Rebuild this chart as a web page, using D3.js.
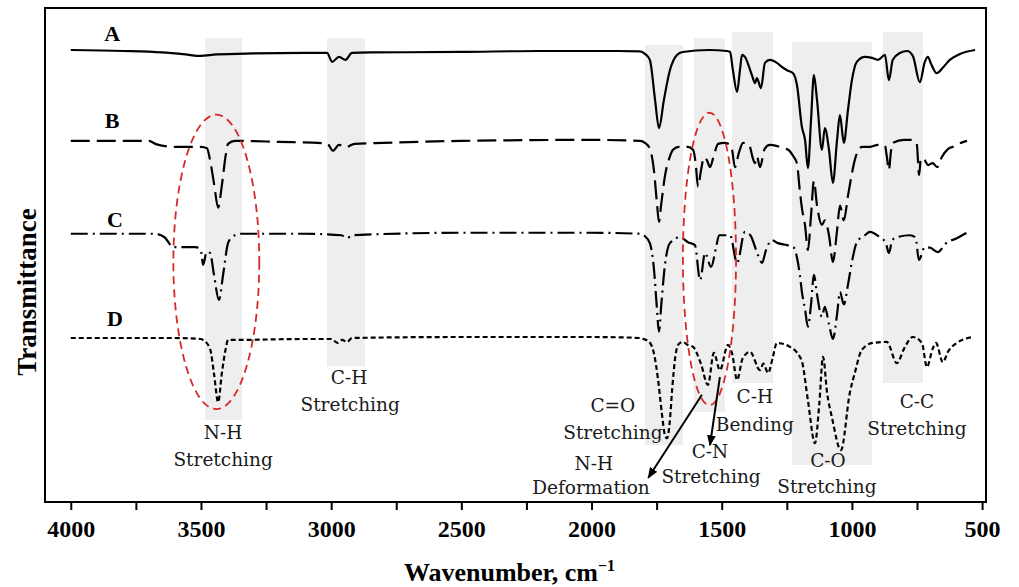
<!DOCTYPE html>
<html>
<head>
<meta charset="utf-8">
<script src="https://cdn.jsdelivr.net/npm/d3@7"></script>
<style>
  body { margin: 0; background: #fff; }
  svg { display: block; }
</style>
</head>
<body>
<svg id="chart" width="1019" height="587"></svg>
<script>
// spectra: [wavenumber (cm-1), transmittance (a.u., traces stacked)]
const traceA = [[4000,91.5],[3800,91.3],[3650,91.0],[3560,90.6],[3503,90.3],[3440,90.6],[3300,90.8],[3100,90.9],[3016,90.9],[2996,89.1],[2970,90.1],[2945,89.5],[2920,90.9],[2850,91.0],[2500,91.1],[2200,91.3],[1900,91.3],[1814,91.2],[1795,90.7],[1776,89.5],[1756,81.4],[1741,75.7],[1722,81.4],[1699,87.4],[1672,90.5],[1650,91.1],[1550,91.5],[1480,91.3],[1468,91.1],[1457,87.4],[1441,83.0],[1430,87.4],[1422,90.5],[1411,90.1],[1384,86.4],[1372,84.8],[1365,85.8],[1349,83.8],[1334,88.9],[1315,89.5],[1288,88.9],[1269,88.1],[1249,87.4],[1226,86.8],[1211,84.4],[1192,75.9],[1180,73.3],[1169,67.6],[1157,77.3],[1146,86.4],[1134,81.4],[1115,71.3],[1104,75.7],[1088,71.3],[1073,64.6],[1057,73.3],[1046,78.3],[1031,72.7],[1015,79.4],[1000,85.4],[981,89.1],[950,90.1],[923,89.9],[900,89.5],[873,90.5],[858,85.4],[843,89.5],[816,90.9],[788,91.3],[766,90.3],[739,85.0],[720,89.1],[708,90.1],[696,88.7],[674,86.8],[651,87.9],[624,89.5],[585,90.7],[527,91.5]];

const traceB = [[4000,73.1],[3700,73.1],[3670,72.4],[3600,71.9],[3500,71.9],[3477,71.6],[3465,69.2],[3450,64.5],[3434,59.6],[3420,64.0],[3405,70.2],[3396,72.5],[3370,73.1],[3200,72.9],[3016,72.6],[2993,71.1],[2970,72.3],[2945,71.8],[2910,72.5],[2800,72.7],[2500,73.1],[2000,73.3],[1814,73.1],[1795,72.7],[1776,71.5],[1760,67.0],[1748,60.0],[1741,56.7],[1733,60.0],[1718,66.0],[1700,69.8],[1687,71.3],[1665,71.9],[1630,71.9],[1610,71.3],[1600,68.5],[1591,63.8],[1580,67.0],[1568,69.8],[1557,69.2],[1545,67.8],[1530,70.2],[1514,72.5],[1490,72.7],[1468,72.3],[1461,71.5],[1449,67.8],[1435,70.5],[1418,72.7],[1395,72.3],[1380,69.5],[1372,68.6],[1365,70.0],[1353,67.8],[1335,71.5],[1315,72.3],[1290,72.1],[1269,71.7],[1245,71.3],[1225,70.0],[1211,68.5],[1200,63.0],[1192,59.5],[1180,56.0],[1169,51.0],[1157,58.0],[1146,65.0],[1134,60.0],[1115,56.1],[1104,57.0],[1088,54.0],[1073,48.6],[1057,55.0],[1046,60.0],[1031,57.0],[1015,62.0],[1000,66.5],[989,69.2],[977,71.0],[960,71.9],[930,71.9],[900,72.3],[873,72.1],[866,70.0],[858,67.2],[850,71.0],[843,72.7],[800,73.3],[770,73.3],[751,72.5],[742,66.2],[735,69.6],[720,69.2],[708,68.2],[690,68.6],[672,67.8],[655,69.8],[630,71.5],[612,71.9],[590,72.5],[558,73.1]];

const traceC = [[4000,54.3],[3680,54.3],[3640,53.6],[3607,51.6],[3520,51.6],[3500,50.8],[3492,48.0],[3478,50.6],[3465,50.4],[3450,46.0],[3431,40.9],[3415,46.0],[3396,52.4],[3381,53.6],[3350,54.3],[3100,54.3],[2960,54.0],[2939,53.4],[2920,54.0],[2500,54.5],[2000,54.5],[1814,54.3],[1795,53.8],[1776,52.4],[1760,47.0],[1750,40.0],[1741,34.5],[1732,40.0],[1718,48.0],[1699,52.4],[1660,53.6],[1630,52.6],[1603,52.0],[1583,44.9],[1564,50.4],[1541,47.6],[1520,52.0],[1510,54.0],[1468,54.0],[1441,48.4],[1411,54.7],[1390,54.0],[1361,50.0],[1345,48.4],[1330,51.0],[1307,53.0],[1284,52.4],[1249,52.0],[1225,51.6],[1211,49.5],[1200,46.0],[1192,42.5],[1180,39.0],[1169,35.5],[1157,40.0],[1146,46.0],[1134,42.0],[1115,37.5],[1104,39.5],[1088,36.0],[1073,33.0],[1057,38.0],[1046,42.5],[1031,40.0],[1015,44.0],[1000,48.6],[981,52.6],[950,54.0],[931,54.7],[893,53.6],[870,52.5],[858,50.4],[845,53.0],[827,53.6],[777,54.0],[755,53.5],[743,49.0],[720,51.6],[700,51.5],[670,50.6],[640,52.3],[597,53.4],[558,54.5]];

const traceD = [[4000,33.2],[3600,33.2],[3500,33.0],[3492,32.8],[3465,31.0],[3450,26.0],[3434,20.2],[3420,26.0],[3405,31.0],[3396,32.8],[3381,32.8],[3100,33.0],[3000,33.0],[2974,32.2],[2958,32.8],[2939,32.4],[2920,33.2],[2500,33.4],[2000,33.4],[1814,33.2],[1800,33.0],[1775,32.2],[1760,30.0],[1745,25.0],[1730,18.0],[1718,13.5],[1710,12.9],[1700,16.0],[1690,23.0],[1678,29.5],[1665,32.0],[1650,32.4],[1630,31.8],[1610,31.4],[1580,28.0],[1553,23.7],[1530,30.2],[1507,26.7],[1476,31.8],[1460,30.0],[1441,24.7],[1420,29.0],[1391,30.4],[1353,26.7],[1340,28.0],[1322,26.1],[1305,29.0],[1288,32.2],[1238,31.4],[1215,30.5],[1200,29.4],[1192,28.5],[1169,20.6],[1142,11.9],[1125,20.0],[1111,29.4],[1095,22.0],[1077,17.2],[1042,10.5],[1008,22.1],[989,26.1],[962,30.8],[920,32.2],[866,32.4],[827,28.1],[800,31.0],[766,33.4],[731,32.2],[712,27.3],[690,31.0],[677,32.2],[651,28.3],[630,30.5],[597,32.2],[535,33.4]];

const seriesNames = ['A', 'B', 'C', 'D'];
const seriesData = [traceA, traceB, traceC, traceD];
const seriesDash = [null, '19,7', '17,5,2,5', '5,3'];
// label anchor [wavenumber, transmittance]
const seriesLabelPos = [[3841, 93.3], [3841, 75.7], [3830, 55.7], [3830, 35.6]];

// shaded bands: [high wn, low wn, top, bottom]
const bands = [
  [3484, 3342, 93.9, 16.6],
  [3016, 2870, 93.9, 27.5],
  [1795, 1649, 92.5, 11.5],
  [1607, 1488, 93.9, 18.2],
  [1461, 1303, 95.1, 24.1],
  [1230, 923, 93.1, 7.5],
  [881, 727, 95.1, 24.1]
];

// dashed ellipses: [centre wn, centre T, radius wn, radius T]
const ellipses = [
  [3441, 48.6, 165, 29.8],
  [1547, 49.2, 102, 29.6]
];

// arrows: [from wn, from T, to wn, to T]
const arrows = [
  [1576, 21.7, 1782, 4.9],
  [1507, 25.3, 1545, 11.5]
];

// annotation lines: [text, wn, T]
const notes = [
  ['N-H', 3415, 12.8], ['Stretching', 3415, 7.3],
  ['C-H', 2931, 23.9], ['Stretching', 2927, 18.4],
  ['C=O', 1918, 18.2], ['Stretching', 1918, 12.8],
  ['N-H', 1991, 6.5], ['Deformation', 2002, 1.6],
  ['C-N', 1545, 8.9], ['Stretching', 1541, 3.8],
  ['C-H', 1373, 20.0], ['Bending', 1373, 14.4],
  ['C-O', 1092, 7.1], ['Stretching', 1096, 1.8],
  ['C-C', 750, 19.0], ['Stretching', 750, 13.6]
];

const tickValues = d3.range(4000, 499, -250);

const plotLeft = 45, plotRight = 986, plotTop = 8, plotBottom = 502;

const svg = d3.select('#chart');

const x = d3.scaleLinear().domain([4099, 485]).range([plotLeft, plotRight]);
const y = d3.scaleLinear().domain([0, 100]).range([plotBottom, plotTop]);

const plot = svg.append('g');

// bands
plot.selectAll('.band')
  .data(bands)
  .join('rect')
  .attr('class', 'band')
  .attr('x', d => x(d[0]))
  .attr('width', d => x(d[1]) - x(d[0]))
  .attr('y', d => y(d[2]))
  .attr('height', d => y(d[3]) - y(d[2]))
  .attr('fill', '#eeeeee');

// spectra
const line = d3.line()
  .x(d => x(d[0]))
  .y(d => y(d[1]))
  .curve(d3.curveMonotoneX);

plot.selectAll('.trace')
  .data(seriesData)
  .join('path')
  .attr('class', 'trace')
  .attr('d', line)
  .attr('fill', 'none')
  .attr('stroke', '#000')
  .attr('stroke-width', 2.2)
  .attr('stroke-linejoin', 'round')
  .attr('stroke-dasharray', (d, i) => seriesDash[i]);

plot.selectAll('.series-label')
  .data(seriesNames)
  .join('text')
  .attr('class', 'series-label')
  .attr('x', (d, i) => x(seriesLabelPos[i][0]))
  .attr('y', (d, i) => y(seriesLabelPos[i][1]))
  .attr('text-anchor', 'middle')
  .attr('font-family', 'Liberation Serif, serif')
  .attr('font-weight', 'bold')
  .attr('font-size', 22)
  .text(d => d);

// red ellipses
plot.selectAll('.ring')
  .data(ellipses)
  .join('ellipse')
  .attr('class', 'ring')
  .attr('cx', d => x(d[0]))
  .attr('cy', d => y(d[1]))
  .attr('rx', d => Math.abs(x(d[0] + d[2]) - x(d[0])))
  .attr('ry', d => Math.abs(y(d[1] + d[3]) - y(d[1])))
  .attr('fill', 'none')
  .attr('stroke', '#d62a2a')
  .attr('stroke-width', 1.8)
  .attr('stroke-dasharray', '8,5');

// arrows
svg.append('defs').append('marker')
  .attr('id', 'head')
  .attr('viewBox', '0 0 10 8')
  .attr('refX', 9)
  .attr('refY', 4)
  .attr('markerWidth', 11)
  .attr('markerHeight', 9)
  .attr('markerUnits', 'userSpaceOnUse')
  .attr('orient', 'auto')
  .append('path')
  .attr('d', 'M0,0L10,4L0,8Z')
  .attr('fill', '#000');

plot.selectAll('.arrow')
  .data(arrows)
  .join('line')
  .attr('class', 'arrow')
  .attr('x1', d => x(d[0]))
  .attr('y1', d => y(d[1]))
  .attr('x2', d => x(d[2]))
  .attr('y2', d => y(d[3]))
  .attr('stroke', '#000')
  .attr('stroke-width', 2)
  .attr('marker-end', 'url(#head)');

// annotations
plot.selectAll('.note')
  .data(notes)
  .join('text')
  .attr('class', 'note')
  .attr('x', d => x(d[1]))
  .attr('y', d => y(d[2]))
  .attr('text-anchor', 'middle')
  .attr('font-family', 'DejaVu Serif, serif')
  .attr('font-size', 18.5)
  .attr('fill', '#1a1a1a')
  .text(d => d[0]);

// frame
svg.append('rect')
  .attr('x', plotLeft)
  .attr('y', plotTop)
  .attr('width', plotRight - plotLeft)
  .attr('height', plotBottom - plotTop)
  .attr('fill', 'none')
  .attr('stroke', '#000')
  .attr('stroke-width', 2);

// x axis
const axisX = d3.axisBottom(x)
  .tickValues(tickValues)
  .tickSize(8)
  .tickPadding(10)
  .tickFormat(d => (d % 500 === 0 ? d : ''));

const gx = svg.append('g')
  .attr('transform', `translate(0,${plotBottom})`)
  .call(axisX);

gx.select('.domain').remove();
gx.selectAll('.tick line').attr('stroke', '#000').attr('stroke-width', 2);
gx.selectAll('.tick text')
  .attr('fill', '#000')
  .attr('font-family', 'Liberation Serif, serif')
  .attr('font-weight', 'bold')
  .attr('font-size', 24);

// axis titles
const xTitle = svg.append('text')
  .attr('x', (plotLeft + plotRight) / 2 - 6)
  .attr('y', 581)
  .attr('text-anchor', 'middle')
  .attr('font-family', 'Liberation Serif, serif')
  .attr('font-weight', 'bold')
  .attr('font-size', 26);
xTitle.append('tspan').text('Wavenumber, cm');
xTitle.append('tspan')
  .attr('dy', -10)
  .attr('font-size', 16)
  .text('\u22121');

svg.append('text')
  .attr('transform', `translate(36,${(plotTop + plotBottom) / 2 + 37}) rotate(-90)`)
  .attr('text-anchor', 'middle')
  .attr('font-family', 'Liberation Serif, serif')
  .attr('font-weight', 'bold')
  .attr('font-size', 27)
  .text('Transmittance');
</script>
</body>
</html>
